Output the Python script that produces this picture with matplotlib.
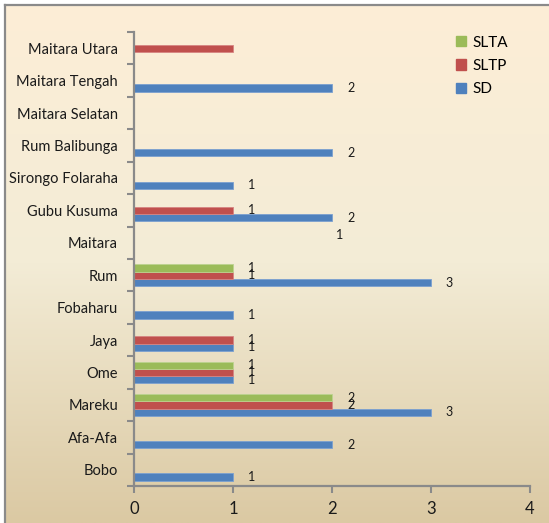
import matplotlib.pyplot as plt
import numpy as np
from matplotlib.colors import LinearSegmentedColormap
from matplotlib.patches import Patch

plt.rcParams['font.family'] = ['Lato', 'DejaVu Sans']

# data (bottom to top)
categories = ['Bobo', 'Afa-Afa', 'Mareku', 'Ome', 'Jaya', 'Fobaharu', 'Rum', 'Maitara',
              'Gubu Kusuma', 'Sirongo Folaraha', 'Rum Balibunga', 'Maitara Selatan',
              'Maitara Tengah', 'Maitara Utara']
sd = [1, 2, 3, 1, 1, 1, 3, 0, 2, 1, 2, 0, 2, 0]
sltp = [0, 0, 2, 1, 1, 0, 1, 0, 1, 0, 0, 0, 0, 1]
slta = [0, 0, 2, 1, 0, 0, 1, 0, 0, 0, 0, 0, 0, 0]
# the label of Maitara Utara / SLTP sits loose in the Maitara row in the original
hide_label = ('SLTP', 'Maitara Utara')

W, H = 549, 523
fig = plt.figure(figsize=(W / 100, H / 100), dpi=100)
fig.patch.set_facecolor('white')

# background with gradient and grey frame (top + left visible)
bg = fig.add_axes([5 / W, 0, 1 - 5 / W, (H - 4.5) / H])
bg.set_zorder(-1)
cmap = LinearSegmentedColormap.from_list('parch', ['#fdeed7', '#f3ecd6', '#dbc9a3'])
grad = np.linspace(0, 1, 256).reshape(-1, 1)
bg.imshow(grad, cmap=cmap, aspect='auto', extent=[0, 1, 0, 1], origin='upper')
bg.set_xticks([])
bg.set_yticks([])
for s in ['right', 'bottom']:
    bg.spines[s].set_visible(False)
for s in ['top', 'left']:
    bg.spines[s].set_color('#8a8a8a')
    bg.spines[s].set_linewidth(1.6)

ax = fig.add_axes([134 / W, (H - 486) / H, (529.7 - 134) / W, (486 - 32) / H])
ax.set_facecolor('none')

y = np.arange(len(categories))
h = 0.225
series = [('SD', sd, '#4f81bd', '#7ba0d0', -h),
          ('SLTP', sltp, '#c0504d', '#d68482', 0),
          ('SLTA', slta, '#9bbb59', '#bcd38f', h)]

for name, vals, col, edge, off in series:
    ax.barh(y + off, vals, height=h, color=col, edgecolor=edge, linewidth=0.6, label=name)
    for i, v in enumerate(vals):
        if v == 0 or (name, categories[i]) == hide_label:
            continue
        ax.text(v + 0.19, y[i] + off, str(v), ha='center', va='center',
                fontsize=9, color='#1a1a1a')

# loose label from the original
ax.text(2.08, 7.24, '1', ha='center', va='center', fontsize=9, color='#1a1a1a')

ax.set_xlim(0, 4)
ax.set_ylim(-0.5, len(categories) - 0.5)
ax.set_xticks([0, 1, 2, 3, 4])
ax.set_yticks(y)
ax.set_yticklabels(categories, fontsize=10.5, color='#1a1a1a')
ax.set_yticks(np.arange(len(categories) + 1) - 0.5, minor=True)
ax.tick_params(axis='y', which='major', length=0, pad=11.5)
ax.tick_params(axis='y', which='minor', length=5, width=1.5, color='#8a8a8a')
ax.tick_params(axis='x', length=5, width=1.5, color='#8a8a8a', labelsize=12,
               labelcolor='#1a1a1a', pad=6)
for s in ['top', 'right']:
    ax.spines[s].set_visible(False)
for s in ['left', 'bottom']:
    ax.spines[s].set_color('#8a8a8a')
    ax.spines[s].set_linewidth(1.6)

handles = [Patch(color='#9bbb59', label='SLTA'),
           Patch(color='#c0504d', label='SLTP'),
           Patch(color='#4f81bd', label='SD')]
fig.legend(handles=handles, loc='upper left', bbox_to_anchor=(442 / W, 1 - 22 / H),
           frameon=False, fontsize=11, handlelength=0.65, handleheight=0.65,
           handletextpad=0.45, labelspacing=0.6)

fig.savefig('out.png', dpi=100)
